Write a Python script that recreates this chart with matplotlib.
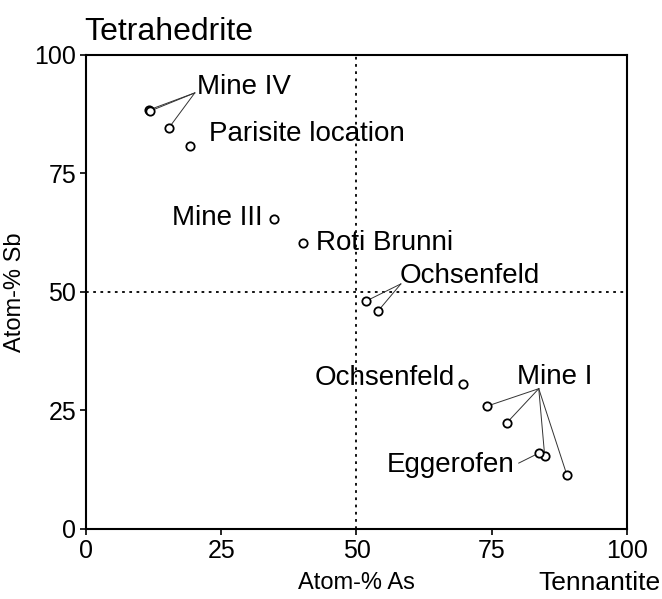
import matplotlib
matplotlib.use('Agg')
import matplotlib.pyplot as plt

plt.rcParams['font.family'] = ['Liberation Sans', 'DejaVu Sans']

# Data: atom-% As (x) and atom-% Sb (y)
mine4_x = [11.6, 11.9, 15.3]
mine4_y = [88.4, 88.2, 84.6]
parisite_x = [19.2]
parisite_y = [80.8]
mine3_x = [34.8]
mine3_y = [65.4]
roti_x = [40.1]
roti_y = [60.3]
ochs_a_x = [51.8, 54.0]
ochs_a_y = [48.1, 46.0]
ochs_b_x = [69.7]
ochs_b_y = [30.6]
mine1_x = [74.1, 77.8, 84.8, 88.9]
mine1_y = [25.9, 22.4, 15.4, 11.4]
egger_x = [83.7]
egger_y = [16.0]

ticks = [0, 25, 50, 75, 100]

fig = plt.figure(figsize=(6.62, 5.99), dpi=100)
ax = fig.add_axes([0.130, 0.1169, 0.817, 0.7913])

all_x = mine4_x + parisite_x + mine3_x + roti_x + ochs_a_x + ochs_b_x + mine1_x + egger_x
all_y = mine4_y + parisite_y + mine3_y + roti_y + ochs_a_y + ochs_b_y + mine1_y + egger_y

# reference lines at 50 %
ax.axvline(50, color='black', lw=1.3, dashes=(1.5, 2.5), zorder=1)
ax.axhline(50, color='black', lw=1.3, dashes=(1.5, 2.5), zorder=1)

# leader lines
def leaders(xs, ys, tx, ty):
    for x, y in zip(xs, ys):
        ax.plot([x, tx], [y, ty], color='#333333', lw=0.7, zorder=2)

leaders(mine4_x, mine4_y, 20.1, 92.0)
leaders(ochs_a_x, ochs_a_y, 58.2, 51.7)
leaders(mine1_x, mine1_y, 83.7, 29.6)
leaders(egger_x, egger_y, 80.0, 13.9)

ax.plot(all_x, all_y, 'o', ms=6, mfc='white', mec='black', mew=1.3,
        zorder=3, clip_on=False)

fs = 20
ax.text(20.5, 93.2, 'Mine IV', fontsize=fs, va='center', ha='left')
ax.text(22.8, 83.3, 'Parisite location', fontsize=fs, va='center', ha='left')
ax.text(32.7, 65.6, 'Mine III', fontsize=fs, va='center', ha='right')
ax.text(42.6, 60.4, 'Roti Brunni', fontsize=fs, va='center', ha='left')
ax.text(58.0, 53.4, 'Ochsenfeld', fontsize=fs, va='center', ha='left')
ax.text(68.2, 31.9, 'Ochsenfeld', fontsize=fs, va='center', ha='right')
ax.text(79.6, 32.1, 'Mine I', fontsize=fs, va='center', ha='left')
ax.text(79.2, 13.6, 'Eggerofen', fontsize=fs, va='center', ha='right')

ax.set_xlim(0, 100)
ax.set_ylim(0, 100)
ax.set_xticks(ticks)
ax.set_yticks(ticks)
ax.tick_params(direction='out', length=4, width=1.2, labelsize=18, pad=3)
for s in ax.spines.values():
    s.set_linewidth(1.5)

fig.text(0.128, 0.947, 'Tetrahedrite', fontsize=23, ha='left', va='center')
fig.text(0.997, 0.026, 'Tennantite', fontsize=19, ha='right', va='center')
fig.text(0.539, 0.026, 'Atom-% As', fontsize=17, ha='center', va='center')
ax.set_ylabel('Atom-% Sb', fontsize=17, labelpad=6)

fig.savefig('out.png', dpi=100)
